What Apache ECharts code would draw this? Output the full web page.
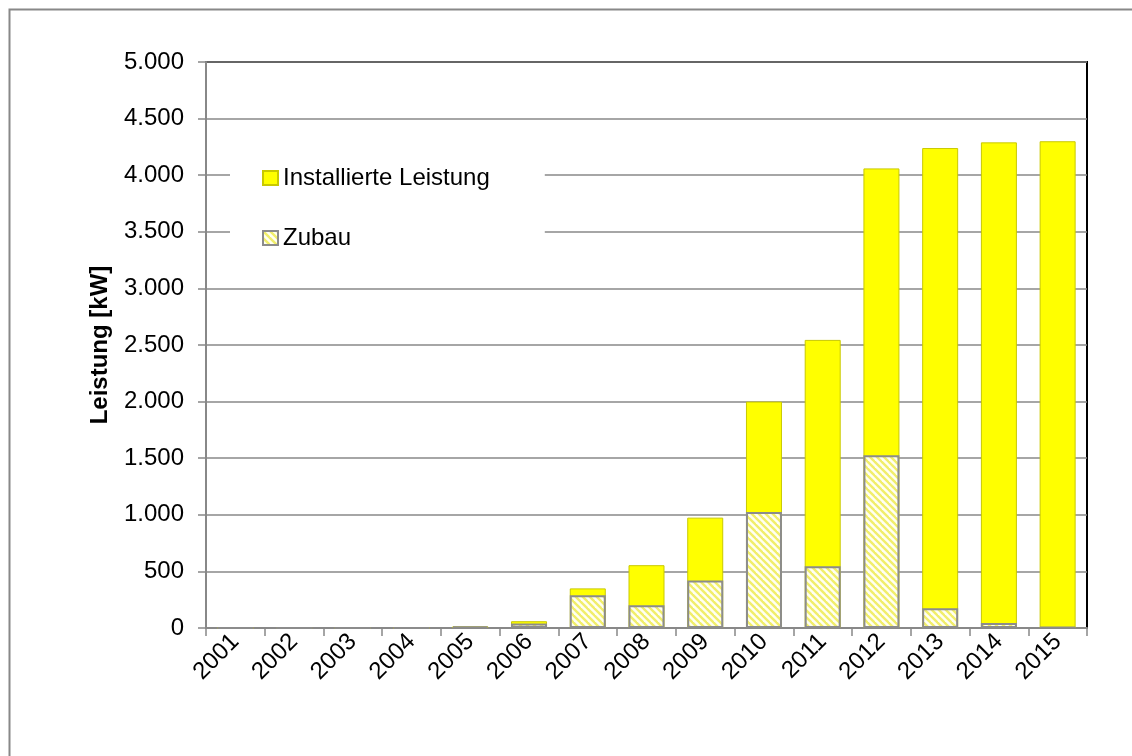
<!DOCTYPE html>
<html>
<head>
<meta charset="utf-8">
<script src="https://cdn.jsdelivr.net/npm/echarts@6/dist/echarts.min.js"></script>
<style>
	html, body { margin: 0; padding: 0; background: #fff; }
	#chart { width: 1132px; height: 756px; }
</style>
</head>
<body>
<div id="chart"></div>
<script>
	// Jahre und Werte (kW)
	var years = ['2001', '2002', '2003', '2004', '2005', '2006', '2007', '2008', '2009', '2010', '2011', '2012', '2013', '2014', '2015'];
	var installiert = [0, 0, 0, 0, 15, 60, 350, 555, 975, 2000, 2545, 4060, 4240, 4290, 4300];
	var zubau = [0, 0, 0, 0, 12, 40, 290, 200, 420, 1025, 545, 1525, 175, 45, 8];
	var seriesNames = ['Installierte Leistung', 'Zubau'];

	// schraffiertes Muster fuer den Zubau
	function makeHatch() {
		var c = document.createElement('canvas');
		c.width = 7;
		c.height = 7;
		var ctx = c.getContext('2d');
		ctx.fillStyle = '#fffff2';
		ctx.fillRect(0, 0, 7, 7);
		ctx.strokeStyle = '#f1ee6a';
		ctx.lineWidth = 2.4;
		for (var k = -7; k <= 7; k += 7) {
			ctx.beginPath();
			ctx.moveTo(-2, k - 2);
			ctx.lineTo(9, k + 9);
			ctx.stroke();
		}
		return c;
	}

	function fmt(v) {
		return String(v).replace(/\B(?=(\d{3})+(?!\d))/g, '.');
	}

	var myChart = echarts.init(document.getElementById('chart'));
	var font = 'Liberation Sans, Arial, sans-serif';

	var option = {
		backgroundColor: '#fff',
		animation: false,
		textStyle: { fontFamily: font },
		graphic: [{
			type: 'rect',
			left: 7,
			top: 7,
			shape: { width: 1200, height: 800 },
			style: { fill: 'none', stroke: '#888', lineWidth: 2 },
			z: -10
		}],
		grid: {
			left: 206,
			top: 62,
			right: 45,
			bottom: 128,
			show: true,
			borderColor: '#000',
			borderWidth: 2,
			backgroundColor: 'transparent'
		},
		legend: {
			data: seriesNames,
			orient: 'vertical',
			left: 230,
			top: 140,
			backgroundColor: '#fff',
			padding: [26, 55, 24, 32],
			icon: 'rect',
			itemWidth: 15,
			itemHeight: 14,
			itemGap: 36,
			textStyle: { fontSize: 24, color: '#000', fontFamily: font }
		},
		xAxis: {
			type: 'category',
			data: years,
			axisLine: { lineStyle: { color: '#888', width: 2 } },
			axisTick: { show: true, length: 8, lineStyle: { color: '#888', width: 1.5 } },
			axisLabel: { rotate: 45, fontSize: 24, color: '#000', margin: 10, interval: 0 }
		},
		yAxis: {
			type: 'value',
			min: 0,
			max: 5000,
			interval: 500,
			name: 'Leistung [kW]',
			nameLocation: 'middle',
			nameGap: 94,
			nameTextStyle: { fontSize: 24, fontWeight: 'bold', color: '#000' },
			axisLine: { show: true, lineStyle: { color: '#888', width: 2 } },
			axisTick: { show: true, length: 8, lineStyle: { color: '#888', width: 1.5 } },
			axisLabel: { fontSize: 24, color: '#000', margin: 22, formatter: fmt },
			splitLine: { lineStyle: { color: '#888', width: 1.5 } }
		},
		series: [{
			name: seriesNames[0],
			type: 'bar',
			data: installiert,
			barWidth: 36,
			itemStyle: {
				color: '#ffff00',
				borderColor: '#c9c900',
				borderWidth: 1
			}
		}, {
			name: seriesNames[1],
			type: 'bar',
			data: zubau,
			barWidth: 36,
			barGap: '-100%',
			itemStyle: {
				color: { image: makeHatch(), repeat: 'repeat' },
				borderColor: '#8c8c8c',
				borderWidth: 2
			}
		}]
	};

	myChart.setOption(option);
</script>
</body>
</html>
